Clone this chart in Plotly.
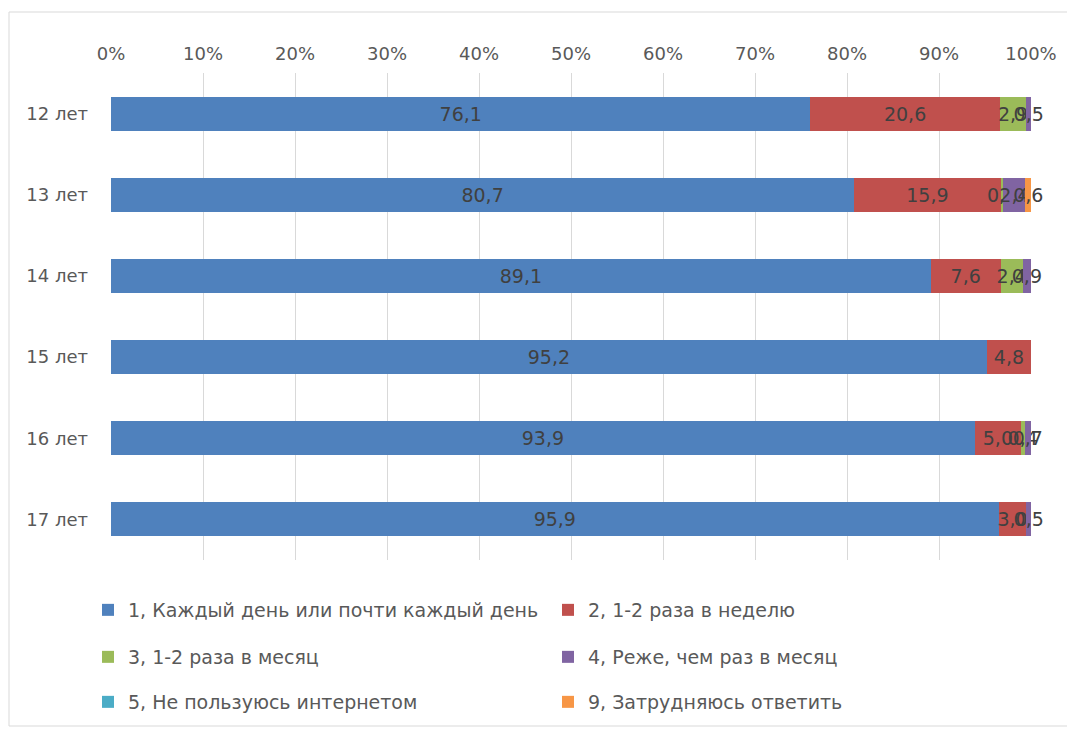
import plotly.graph_objects as go

categories = ["12 лет", "13 лет", "14 лет", "15 лет", "16 лет", "17 лет"]
series_names = [
    "1, Каждый день или почти каждый день",
    "2, 1-2 раза в неделю",
    "3, 1-2 раза в месяц",
    "4, Реже, чем раз в месяц",
    "5, Не пользуюсь интернетом",
    "9, Затрудняюсь ответить",
]
s1 = [76.1, 80.7, 89.1, 95.2, 93.9, 95.9]
s2 = [20.6, 15.9, 7.6, 4.8, 5.0, 3.0]
s3 = [2.9, 0.3, 2.4, 0, 0.4, None]
s4 = [0.5, 2.4, 0.9, None, 0.7, 0.5]
s5 = [None, None, None, None, None, None]
s6 = [None, 0.6, None, None, None, None]
colors = ["#4F81BD", "#C0504D", "#9BBB59", "#8064A2", "#4BACC6", "#F79646"]
tick_vals = [0, 10, 20, 30, 40, 50, 60, 70, 80, 90, 100]

FONT = "DejaVu Sans"
GRAY = "#595959"

def fmt(v):
    if v is None:
        return ""
    if v == 0:
        return "0"
    return f"{v:.1f}".replace(".", ",")

fig = go.Figure()
all_series = [s1, s2, s3, s4, s5, s6]
legend_ids = ["legend", "legend", "legend2", "legend2", "legend3", "legend3"]
for name, vals, col, lg in zip(series_names, all_series, colors, legend_ids):
    fig.add_trace(go.Bar(
        y=categories,
        x=[v if v is not None else 0 for v in vals],
        orientation="h",
        name=name,
        marker=dict(color=col, line=dict(width=0)),
        text=[fmt(v) for v in vals],
        texttemplate="%{text}",
        textposition="inside",
        textangle=0,
        insidetextanchor="middle",
        insidetextfont=dict(family=FONT, size=19, color="#404040"),
        constraintext="none",
        legend=lg,
        cliponaxis=False,
    ))

FIG_W, FIG_H, OFF = 1063, 719, 8
# screen pixel -> container coordinates
def cx(px):
    return (px - OFF) / FIG_W
def cy(py):
    return 1 - (py - OFF) / FIG_H

legend_common = dict(
    orientation="h",
    traceorder="normal",
    font=dict(family=FONT, size=19, color=GRAY),
    entrywidth=415,
    xref="container",
    yref="container",
    xanchor="left",
    yanchor="middle",
    bgcolor="rgba(0,0,0,0)",
)

# screen pixel -> paper coordinates (plot area spans x 111..1031, y 73..560 on screen)
def px_x(px):
    return (px - 111) / 920.0
def px_y(py):
    return (560 - py) / 487.0

fig.update_layout(
    width=FIG_W,
    height=FIG_H,
    margin=dict(l=103, r=40, t=65, b=167, autoexpand=False),
    barmode="stack",
    barnorm="percent",
    bargap=0.58,
    plot_bgcolor="white",
    paper_bgcolor="white",
    showlegend=True,
    uniformtext=dict(mode="show", minsize=19),
    legend=dict(x=cx(88), y=cy(610), **legend_common),
    legend2=dict(x=cx(88), y=cy(657), **legend_common),
    legend3=dict(x=cx(88), y=cy(702), **legend_common),
    xaxis=dict(
        side="top",
        range=[0, 100],
        tickvals=tick_vals,
        ticktext=[f"{t}%" for t in tick_vals],
        showgrid=True,
        gridcolor="#D9D9D9",
        gridwidth=1,
        zeroline=False,
        showline=False,
        tickfont=dict(family=FONT, size=18, color=GRAY),
        ticks="",
        ticklabelstandoff=8,
    ),
    yaxis=dict(
        autorange="reversed",
        showgrid=False,
        zeroline=False,
        showline=False,
        ticks="",
        tickfont=dict(family=FONT, size=18, color=GRAY),
        ticklabelstandoff=22,
    ),
    shapes=[dict(
        type="rect", xref="paper", yref="paper",
        x0=px_x(9), x1=px_x(1068), y0=px_y(726), y1=px_y(12),
        line=dict(color="#D9D9D9", width=1), fillcolor="rgba(0,0,0,0)",
        layer="below",
    )],
)

fig.write_html("out.html")
